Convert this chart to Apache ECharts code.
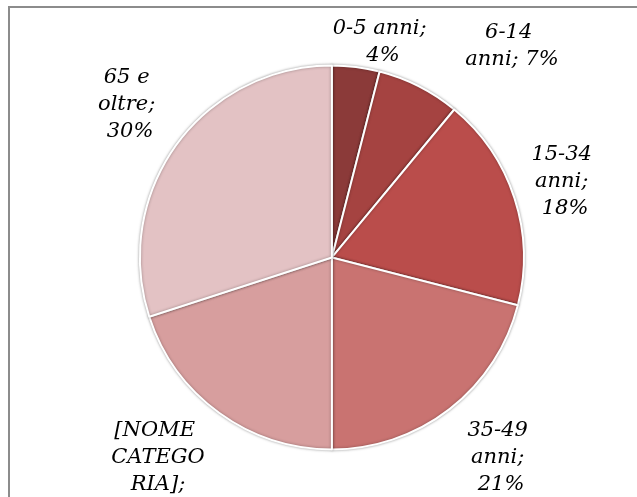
<!DOCTYPE html>
<html><head><meta charset="utf-8">
<style>html,body{margin:0;padding:0;background:#fff;}#c{width:637px;height:497px;}</style>
<script src="https://cdn.jsdelivr.net/npm/echarts@6/dist/echarts.min.js"></script>
</head><body><div id="c"></div>
<script>
var categories = ['0-5 anni', '6-14 anni', '15-34 anni', '35-49 anni', '[NOME CATEGORIA]', '65 e oltre'];
var values = [4, 7, 18, 21, 20, 30];
var colors = ['#8b3a39', '#a54341', '#ba4d4b', '#c97371', '#d79e9e', '#e3c2c4'];
var labelWidths = [118, 100, 75, 75, 106, 66];
var labelSep = [' ', ' ', ' ', ' ', '\n', ' '];
var labelPos = [[383, 42], [512, 46], [565, 182], [501, 458], [158, 471], [130, 105]];

var chart = echarts.init(document.getElementById('c'));
var data = categories.map(function (c, i) {
  return {
    name: c, value: values[i],
    itemStyle: { color: colors[i] },
    label: { width: labelWidths[i], overflow: 'break' }
  };
});
chart.setOption({
  animation: false,
  graphic: [{ type: 'rect', shape: { x: 9, y: 7, width: 700, height: 600 }, style: { fill: 'none', stroke: '#8c8c8c', lineWidth: 2 }, silent: true }],
  series: [{
    type: 'pie',
    center: ['52.1%', '51.8%'],
    radius: 192,
    startAngle: 90,
    clockwise: true,
    data: data,
    itemStyle: { borderColor: '#fff', borderWidth: 2, shadowBlur: 3, shadowColor: 'rgba(0,0,0,0.35)' },
    label: {
      show: true, position: 'outside',
      formatter: function (p) { return p.name + ';' + labelSep[p.dataIndex] + p.percent.toFixed(0) + '%'; },
      fontFamily: 'DejaVu Serif', fontStyle: 'italic', fontSize: 21, color: '#000',
      lineHeight: 27, align: 'center'
    },
    labelLine: { show: false },
    labelLayout: function (params) {
      var p = labelPos[params.dataIndex];
      return { x: p[0], y: p[1], align: 'center', verticalAlign: 'middle' };
    }
  }]
});
</script></body></html>
